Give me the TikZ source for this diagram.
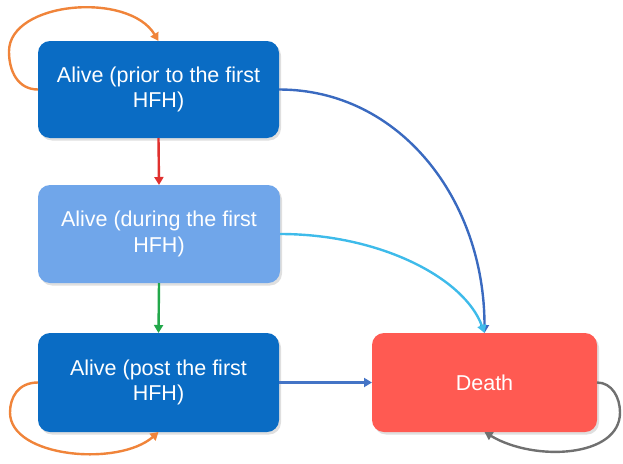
\documentclass[tikz,border=0pt]{standalone}
\usepackage{fontspec}
\setmainfont{Liberation Sans}
\usetikzlibrary{arrows.meta,shadows}
\definecolor{darkbox}{HTML}{0A6CC4}
\definecolor{lightbox}{HTML}{70A6EA}
\definecolor{deathbox}{HTML}{FF5A52}
\definecolor{redarr}{HTML}{E0302E}
\definecolor{greenarr}{HTML}{22A84A}
\definecolor{orangearr}{HTML}{F0843A}
\definecolor{grayarr}{HTML}{707070}
\definecolor{darkarr}{HTML}{3A6AC0}
\definecolor{lightarr}{HTML}{3EBBEA}
\definecolor{midarr}{HTML}{4474C6}
\begin{document}
\begin{tikzpicture}[x=1pt,y=-1pt,
  state/.style={rounded corners=12pt, inner sep=0pt, outer sep=0pt, align=center,
    text=white, font=\fontsize{21.5}{25.5}\selectfont,
    drop shadow={shadow xshift=2pt, shadow yshift=-2.5pt, opacity=0.25}},
  conn/.style={line width=2.4pt, -{Triangle[width=9pt,length=8pt]}}]
\useasboundingbox (0,0) rectangle (623,463);
\node[state, fill=darkbox, minimum width=241pt, minimum height=97pt] (b1) at (158.5,89.5) {Alive (prior to the first\\HFH)};
\node[state, fill=lightbox, minimum width=242pt, minimum height=98pt] (b2) at (159,234) {Alive (during the first\\HFH)};
\node[state, fill=darkbox, minimum width=241pt, minimum height=99pt] (b3) at (158.5,382.5) {Alive (post the first\\HFH)};
\node[state, fill=deathbox, minimum width=225pt, minimum height=99pt] (d) at (484.5,382.5) {Death};

\draw[conn, redarr] (b1.south) -- (b2.north);
\draw[conn, greenarr] (b2.south) -- (b3.north);
\draw[conn, midarr] (b3.east) -- (d.west);
\draw[conn, darkarr] (b1.east) .. controls +(121,0) and +(0,-133) .. (d.north);
\draw[conn, lightarr] (b2.east) .. controls +(100,0) and +(-20,-55) .. (d.north);
\draw[conn, orangearr] (b1.west) .. controls +(-20,0) and +(0,20) .. ++(-29,-38) coordinate (o1) .. controls +(0,-50) and +(-30,-50) .. (b1.north);
\draw[conn, orangearr] (b3.west) .. controls +(-20,0) and +(0,-15) .. ++(-28,30) coordinate (o2) .. controls +(0,45) and +(-40,35) .. (b3.south);
\draw[conn, grayarr] (d.east) .. controls +(15,0) and +(0,-15) .. ++(23,30) coordinate (o3) .. controls +(0,45) and +(50,30) .. (d.south);
\end{tikzpicture}
\end{document}
